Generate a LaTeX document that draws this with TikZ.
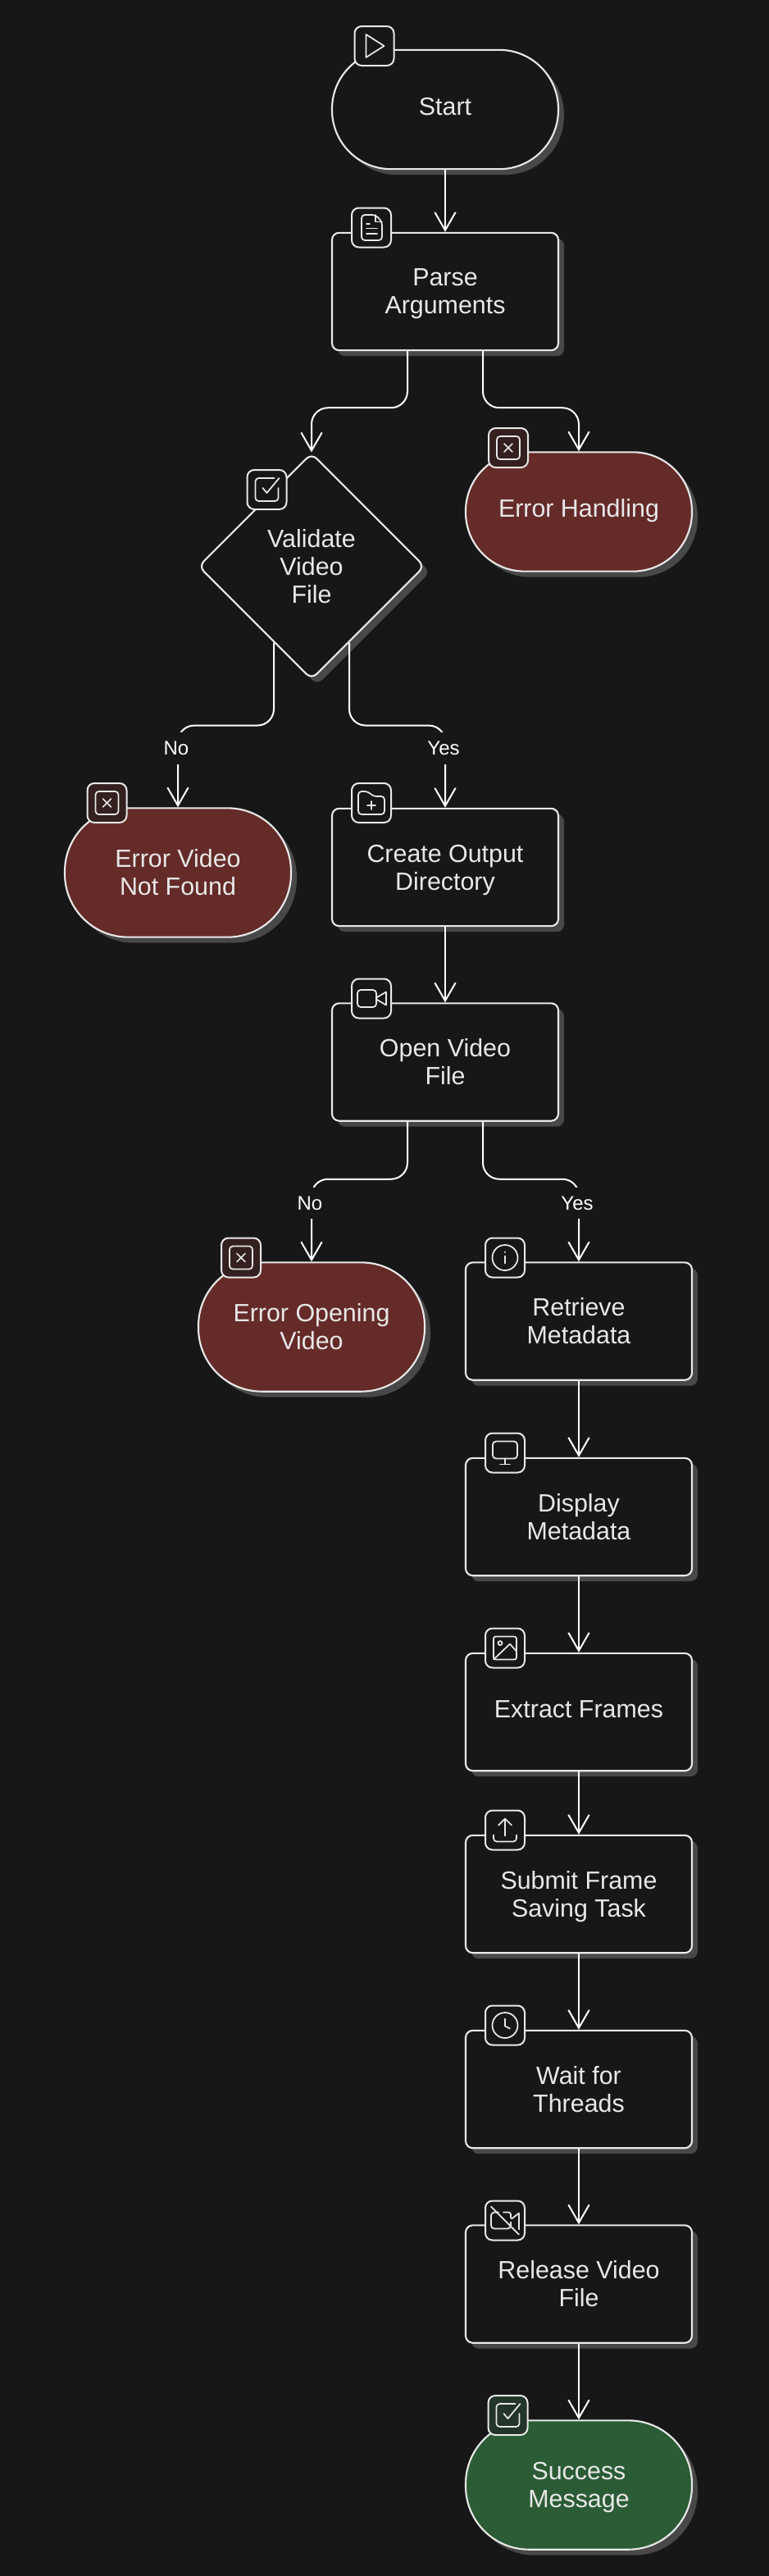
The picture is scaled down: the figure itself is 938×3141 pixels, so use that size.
\documentclass[tikz,border=0pt]{standalone}
\usepackage{fontspec}
\setmainfont{Liberation Sans}
\usetikzlibrary{arrows.meta,calc,shapes.geometric,shadows}
\definecolor{pageBlack}{HTML}{171717}
\definecolor{shadowGrey}{HTML}{484848}
\definecolor{lineWhite}{HTML}{E8E8E8}
\definecolor{errorRed}{HTML}{652B28}
\definecolor{errorDark}{HTML}{33201F}
\definecolor{okGreen}{HTML}{2B5C35}
\definecolor{okDark}{HTML}{24352A}
\newcommand{\flatline}[1]{\raisebox{0pt}[\height][0pt]{#1}}
\tikzset{
  flowbase/.style={draw=lineWhite,line width=1.6pt,text=lineWhite,fill=pageBlack,align=center,
    font=\fontsize{22.8pt}{25.5pt}\selectfont,inner sep=0pt,
    drop shadow={shadow xshift=5.25pt,shadow yshift=-5.25pt,fill=shadowGrey,opacity=1}},
  procbox/.style={flowbase,rectangle,rounded corners=6.5pt,minimum width=207pt,minimum height=107.5pt},
  termbox/.style={flowbase,rectangle,rounded corners=54pt,minimum width=207pt,minimum height=109pt},
  tallbox/.style={termbox,rounded corners=58pt,minimum height=118pt},
  decbox/.style={flowbase,diamond,rounded corners=6.5pt,aspect=1,minimum width=207pt,minimum height=207pt},
  errfill/.style={fill=errorRed},
  okfill/.style={fill=okGreen},
  oneline/.style={text height=17pt,text depth=7pt},
  iconbox/.style={draw=lineWhite,line width=1.5pt,fill=pageBlack,rectangle,rounded corners=6.5pt,
    minimum size=36pt,inner sep=0pt},
  flowarrow/.style={draw=white,line width=1.5pt,rounded corners=15pt,
    -{Straight Barb[length=16.5pt,width=19pt,line width=1.5pt]}},
  flowlabel/.style={fill=pageBlack,text=white,font=\fontsize{18pt}{20pt}\selectfont,
    inner xsep=1pt,inner ysep=0pt,minimum height=29pt},
  iconline/.style={draw=lineWhite,line width=1.3pt,line cap=round,line join=round},
  playicon/.pic={\draw[iconline] (-10,-14) -- (-10,14) -- (12,0) -- cycle;},
  fileicon/.pic={\draw[iconline,rounded corners=3pt] (-12,-15.5) -- (5,-15.5) -- (13,-7) -- (13,15.5) -- (-12,15.5) -- cycle;
    \draw[iconline] (5,-15.5) -- (5,-7) -- (13,-7) (-6,-4.5) -- (-2,-4.5) (-6,1) -- (7,1) (-6,7.5) -- (7,7.5);},
  checkicon/.pic={\draw[iconline,rounded corners=3pt] (9,-14) -- (-14,-14) -- (-14,14) -- (14,14) -- (14,-2);
    \draw[iconline] (-5,-2) -- (0,4) -- (15,-14);},
  crossicon/.pic={\draw[iconline,rounded corners=3pt] (-14,-14) rectangle (14,14);
    \draw[iconline] (-5,-5) -- (5,5) (-5,5) -- (5,-5);},
  foldericon/.pic={\draw[iconline,rounded corners=3pt] (-16,-14) -- (-4,-14) -- (2,-8) -- (16,-8) -- (16,14) -- (-16,14) -- cycle;
    \draw[iconline] (0,-2) -- (0,8) (-5,3) -- (5,3);},
  videoicon/.pic={\draw[iconline,rounded corners=3pt] (-17,-10.5) rectangle (6,10.5);
    \draw[iconline] (6,-1) -- (18,-8) -- (18,8) -- (6,1);},
  infoicon/.pic={\draw[iconline] (0,0) circle (15.5);
    \draw[iconline] (0,-2) -- (0,7) (0,-7) -- (0,-6.5);},
  monitoricon/.pic={\draw[iconline,rounded corners=3pt] (-15,-14) rectangle (15,7);
    \draw[iconline] (0,7) -- (0,14) (-6,14) -- (6,14);},
  imageicon/.pic={\draw[iconline,rounded corners=2pt] (-14,-14) rectangle (14,14);
    \draw[iconline] (-6,-6) circle (2.5);
    \draw[iconline] (-14,14) -- (6,-5) -- (14,4);},
  uploadicon/.pic={\draw[iconline,rounded corners=3pt] (-14,6) -- (-14,14) -- (14,14) -- (14,6);
    \draw[iconline] (0,7) -- (0,-14) (-8,-6) -- (0,-14) (8,-6) -- (0,-14);},
  clockicon/.pic={\draw[iconline] (0,0) circle (15.5);
    \draw[iconline] (0,-8) -- (0,1) (0,1) -- (6,4);},
  videoofficon/.pic={\draw[iconline,rounded corners=3pt] (-8,-10) -- (-17,-10) -- (-17,10) -- (7,10) -- (7,2);
    \draw[iconline,rounded corners=2pt] (-2,-10) -- (7,-10) -- (7,-3);
    \draw[iconline] (8,-2) -- (17,-9) -- (17,11);
    \draw[iconline] (-17,-17) -- (17,17);},
}
\begin{document}
\begin{tikzpicture}[x=0.75pt,y=-0.75pt]
  \useasboundingbox (0,0) rectangle (938,3141);
  \fill[pageBlack] (0,0) rectangle (938,3141);
  % nodes
  \node[termbox,oneline] (start) at (543,133.5) {Start};
  \node[procbox] (parse) at (543,355.5) {Parse\\\flatline{Arguments}};
  \node[decbox] (valid) at (380,690.5) {Validate\\Video\\File};
  \node[termbox,errfill,oneline] (errhandle) at (706,624) {Error Handling};
  \node[tallbox,errfill] (errvideo) at (217,1064) {Error Video\\Not Found};
  \node[procbox] (outdir) at (543,1057.5) {Create Output\\\flatline{Directory}};
  \node[procbox] (openvideo) at (543,1295) {Open Video\\File};
  \node[tallbox,errfill] (erropen) at (380,1618) {Error Opening\\Video};
  \node[procbox] (metaget) at (706,1611) {Retrieve\\Metadata};
  \node[procbox] (metashow) at (706,1849.5) {Display\\Metadata};
  \node[procbox,oneline] (frames) at (706,2087.5) {Extract Frames};
  \node[procbox] (submit) at (706,2309.5) {Submit Frame\\\flatline{Saving Task}};
  \node[procbox] (threads) at (706,2547.5) {Wait for\\Threads};
  \node[procbox] (release) at (706,2785) {Release Video\\File};
  \node[tallbox,okfill] (success) at (706,3030) {Success\\\flatline{Message}};
  % connectors
  \draw[flowarrow] (start) -- (parse);
  \draw[flowarrow] ($(parse.south)+(-46,0)$) -- ++(0,69) -| (valid.north);
  \draw[flowarrow] ($(parse.south)+(46,0)$) -- ++(0,69) -| (errhandle.north);
  \draw[flowarrow] ($(valid.south)+(-46,-46)$) -- ++(0,101) -| (errvideo.north);
  \draw[flowarrow] ($(valid.south)+(46,-46)$) -- ++(0,101) -| (outdir.north);
  \draw[flowarrow] (outdir) -- (openvideo);
  \draw[flowarrow] ($(openvideo.south)+(-46,0)$) -- ++(0,70) -| (erropen.north);
  \draw[flowarrow] ($(openvideo.south)+(46,0)$) -- ++(0,70) -| (metaget.north);
  \draw[flowarrow] (metaget) -- (metashow);
  \draw[flowarrow] (metashow) -- (frames);
  \draw[flowarrow] (frames) -- (submit);
  \draw[flowarrow] (submit) -- (threads);
  \draw[flowarrow] (threads) -- (release);
  \draw[flowarrow] (release) -- (success);
  % edge labels
  \node[flowlabel] (novalid) at (215,912.5) {No};
  \node[flowlabel] (yesvalid) at (541,912.5) {Yes};
  \node[flowlabel] (noopen) at (378,1467) {No};
  \node[flowlabel] (yesopen) at (704,1467) {Yes};
  % icons
  \node[iconbox] (starticon) at (456.5,56) {};
  \pic at (starticon) {playicon};
  \node[iconbox] (parseicon) at (453,277.5) {};
  \pic at (parseicon) {fileicon};
  \node[iconbox] (valicon) at (325.5,597) {};
  \pic at (valicon) {checkicon};
  \node[iconbox,fill=errorDark] (erricon) at (620,546) {};
  \pic at (erricon) {crossicon};
  \node[iconbox,fill=errorDark] (viderricon) at (130.5,979) {};
  \pic at (viderricon) {crossicon};
  \node[iconbox] (diricon) at (453,979) {};
  \pic at (diricon) {foldericon};
  \node[iconbox] (openicon) at (453,1217.5) {};
  \pic at (openicon) {videoicon};
  \node[iconbox,fill=errorDark] (openerricon) at (294,1533.5) {};
  \pic at (openerricon) {crossicon};
  \node[iconbox] (geticon) at (616,1533.5) {};
  \pic at (geticon) {infoicon};
  \node[iconbox] (showicon) at (616,1771.5) {};
  \pic at (showicon) {monitoricon};
  \node[iconbox] (frameicon) at (616,2009.5) {};
  \pic at (frameicon) {imageicon};
  \node[iconbox] (submiticon) at (616,2231.5) {};
  \pic at (submiticon) {uploadicon};
  \node[iconbox] (waiticon) at (616,2469.5) {};
  \pic at (waiticon) {clockicon};
  \node[iconbox] (releaseicon) at (616,2707.5) {};
  \pic at (releaseicon) {videoofficon};
  \node[iconbox,fill=okDark] (okicon) at (619.5,2945) {};
  \pic at (okicon) {checkicon};
\end{tikzpicture}
\end{document}
